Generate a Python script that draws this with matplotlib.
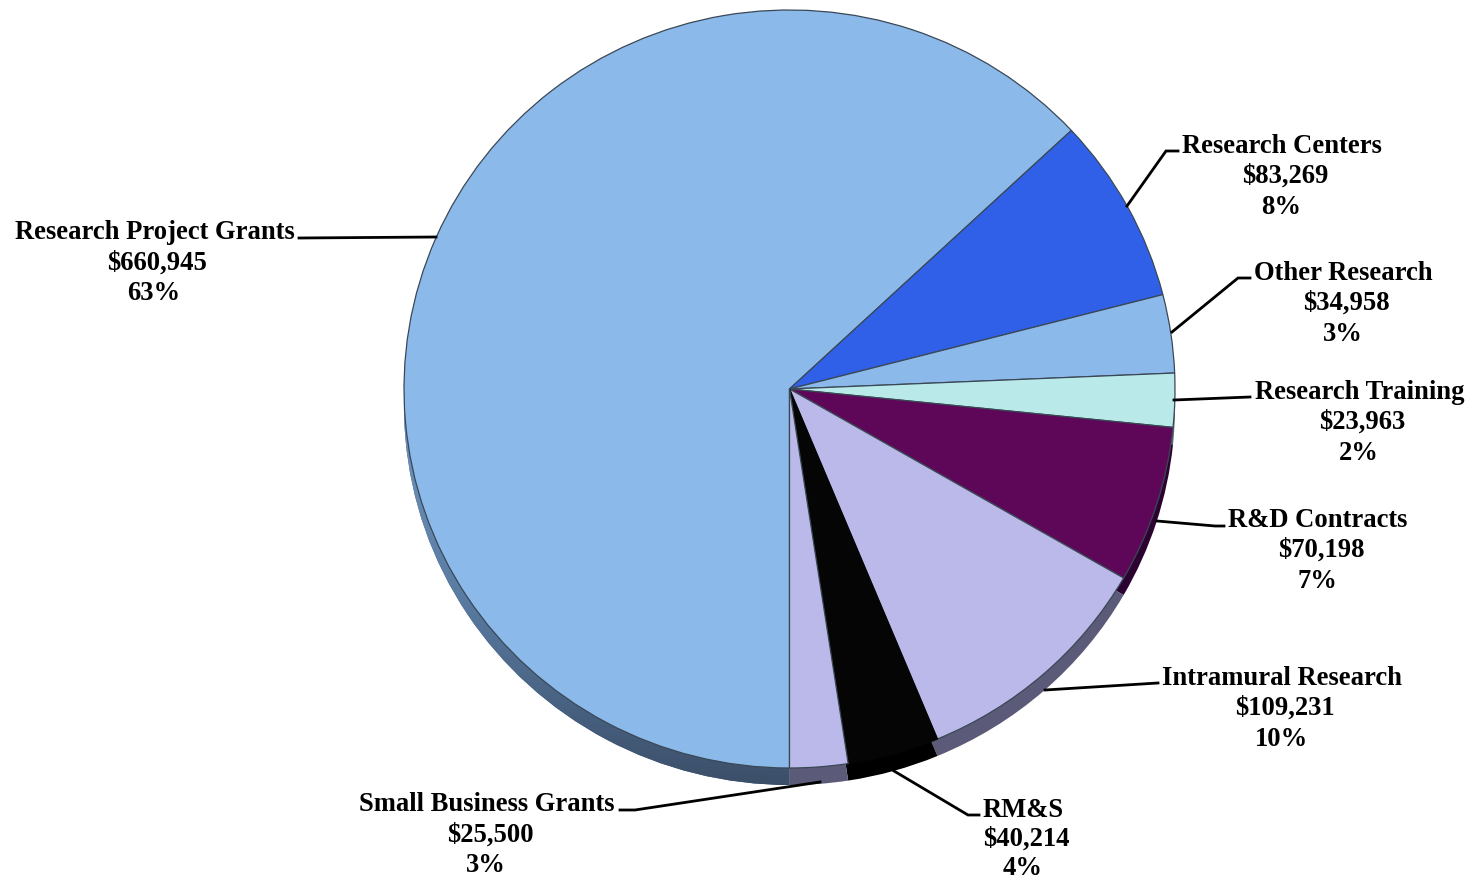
#!/usr/bin/python

import numpy as np
import matplotlib
matplotlib.use("Agg")
import matplotlib.pyplot as plt
from matplotlib.colors import LinearSegmentedColormap

W, H = 1474, 879
CX, CY = 789.5, 390
RX, RY = 385.5, 379
DEPTH = 17

# data
names = ["Research Project Grants", "Research Centers", "Other Research", "Research Training",
         "R&D Contracts", "Intramural Research", "RM&S", "Small Business Grants"]
values = [660945, 83269, 34958, 23963, 70198, 109231, 40214, 25500]
amounts = ["$660,945", "$83,269", "$34,958", "$23,963", "$70,198", "$109,231", "$40,214", "$25,500"]
percents = ["63%", "8%", "3%", "2%", "7%", "10%", "4%", "3%"]

colors = ["#8bb9ea", "#3060e8", "#8bb9ea", "#b9e9e8", "#5e0658", "#bab9e9", "#050505", "#bab9e9"]
side_colors = ["#46607f", "#1c3a8c", "#46607f", "#5a7070", "#2c0330", "#5b5a78", "#000000", "#5b5a78"]

# label layout in picture pixels: centre x of each of the three lines, baselines
label_x = [(155, 157, 154), (1282, 1285, 1281), (1343, 1346, 1343), (1360, 1362, 1359),
           (1318, 1321, 1317), (1282, 1285, 1282), (1023, 1026, 1023), (487, 490, 486)]
label_y = [(239, 270, 300), (153, 183, 214), (280, 310, 341), (399, 429, 460),
           (527, 557, 588), (685, 715, 746), (817, 846, 875), (811, 842, 872)]

# leader lines, picture pixels
leaders = [
    [(299, 239), (436, 238)],
    [(1127, 207), (1166, 152), (1178, 152)],
    [(1172, 333), (1238, 279), (1250, 279)],
    [(1174, 401), (1250, 398)],
    [(1157, 522), (1215, 527), (1224, 527)],
    [(1045, 691), (1158, 684)],
    [(894, 772), (968, 816), (979, 816)],
    [(620, 811), (635, 811), (820, 783)],
]

plt.rcParams['font.family'] = ['Liberation Serif', 'DejaVu Serif']

fig = plt.figure(figsize=(W / 100, H / 100), dpi=100)
ax = fig.add_axes([0, 0, 1, 1])

# y data units are squeezed so that the circle comes out as the flat ellipse of the picture
k = RY / RX


def px(x, y):
    return x, (H - y) / k


# side of the pie, same pie moved down
side, _ = ax.pie(values, colors=side_colors, startangle=270, counterclock=False, radius=RX,
                 center=px(CX, CY + DEPTH), wedgeprops={"linewidth": 0})

# side of the big slice gets darker towards the bottom
grad = LinearSegmentedColormap.from_list("side", ["#7096c0", "#5a7ca3", "#3b4e68"])
img = ax.imshow(np.linspace(0, 1, 256).reshape(-1, 1), cmap=grad, aspect="auto",
                extent=(0, W, px(0, 790)[1], px(0, 400)[1]), origin="upper", zorder=1.5)
img.set_clip_path(side[0])

# closing line between side and top
wedges, _ = ax.pie(values, colors=colors, startangle=270, counterclock=False, radius=RX,
                   center=px(CX, CY), wedgeprops={"linewidth": 0.9, "edgecolor": "#3a4856", "zorder": 2})
wedges[6].set_edgecolor("#050505")

ax.set_aspect("auto")
ax.set_xlim(0, W)
ax.set_ylim(0, H / k)
ax.axis("off")

for pts in leaders:
    xs, ys = zip(*[px(*p) for p in pts])
    ax.plot(xs, ys, color="black", lw=2.0, solid_joinstyle="miter", zorder=3)

for name, amount, pct, xs, ys in zip(names, amounts, percents, label_x, label_y):
    for line, x, y in zip((name, amount, pct), xs, ys):
        tx, ty = px(x, y)
        ax.text(tx, ty, line, ha="center", va="baseline", fontsize=19.2, fontweight="bold",
                color="black", zorder=4)

fig.savefig("out.png", dpi=100, facecolor="white")
